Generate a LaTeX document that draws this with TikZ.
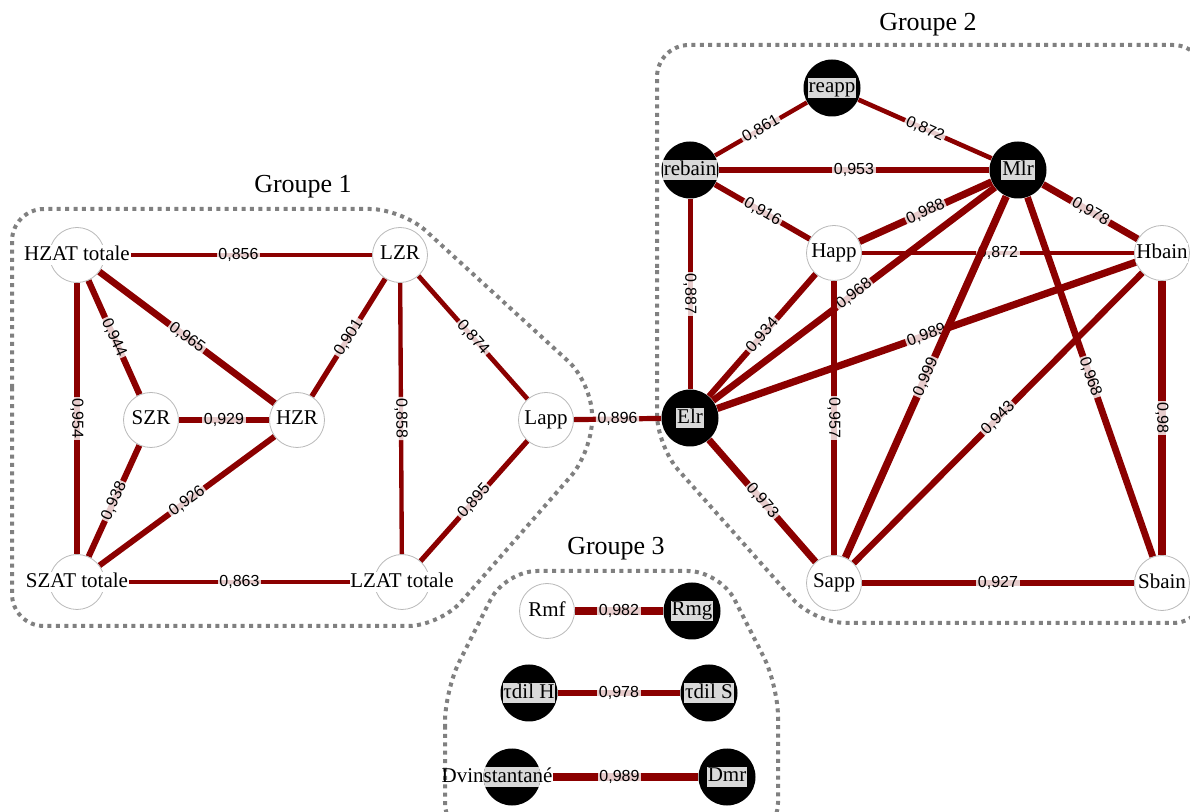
\documentclass[tikz,border=0pt]{standalone}
\usepackage{fontspec}
\setmainfont{Liberation Serif}
\setsansfont{Liberation Sans}
\usepackage{xcolor}
\definecolor{linkred}{HTML}{8B0000}
\definecolor{hullgray}{HTML}{808080}
\definecolor{labgray}{HTML}{D9D9D9}
\usepackage{tikz}
\usetikzlibrary{backgrounds}
\newcommand{\wtxt}[1]{\makebox[0pt]{\setlength{\fboxsep}{0.4pt}\colorbox{white}{\vphantom{Hp}#1}}}
\newcommand{\btxt}[1]{\makebox[0pt]{\setlength{\fboxsep}{0.4pt}\colorbox{labgray}{\vphantom{Hp}#1}}}

\begin{document}
\begin{tikzpicture}[x=0.5pt,y=-0.5pt,
  wvar/.style={circle,draw=gray!55,line width=0.4pt,fill=white,minimum size=27.5pt,inner sep=0pt,font=\fontsize{10.5}{12}\selectfont},
  bvar/.style={wvar,draw=none,fill=black,minimum size=28.5pt},
  lk/.style={draw=linkred,line width={(#1-0.66)*11pt}},
  val/.style={sloped,font=\sffamily\fontsize{8}{9}\selectfont,fill=white,fill opacity=.8,text opacity=1,inner sep=.8pt},
  hull/.style={draw=hullgray,line width=2pt,dash pattern=on 2pt off 2.2pt,rounded corners=16pt},
  grp/.style={font=\fontsize{13}{15}\selectfont}]
\useasboundingbox (0,0) rectangle (1190,812);
% groupe 1
\node[wvar] (HZAT) at (77,255) {\wtxt{HZAT totale}};
\node[wvar] (LZR) at (400,255) {\wtxt{LZR}};
\node[wvar] (SZR) at (151,420) {\wtxt{SZR}};
\node[wvar] (HZR) at (297,420) {\wtxt{HZR}};
\node[wvar] (Lapp) at (546,420) {\wtxt{Lapp}};
\node[wvar] (SZAT) at (77,582) {\wtxt{SZAT totale}};
\node[wvar] (LZAT) at (402,582) {\wtxt{LZAT totale}};
% groupe 2
\node[bvar] (reapp) at (832,88) {\btxt{reapp}};
\node[bvar] (rebain) at (690,170) {\btxt{rebain}};
\node[bvar] (Mlr) at (1018,170) {\btxt{Mlr}};
\node[wvar] (Happ) at (834,253) {\wtxt{Happ}};
\node[wvar] (Hbain) at (1162,253) {\wtxt{Hbain}};
\node[bvar] (Elr) at (690,418) {\btxt{Elr}};
\node[wvar] (Sapp) at (834,583) {\wtxt{Sapp}};
\node[wvar] (Sbain) at (1162,583) {\wtxt{Sbain}};
% groupe 3
\node[wvar] (Rmf) at (547,611) {\wtxt{Rmf}};
\node[bvar] (Rmg) at (692,611) {\btxt{Rmg}};
\node[bvar] (tdilH) at (529,693) {\btxt{τdil H}};
\node[bvar] (tdilS) at (709,693) {\btxt{τdil S}};
\node[bvar,path picture={\fill[labgray] ([yshift=-5pt]path picture bounding box.west) rectangle ([yshift=5pt]path picture bounding box.east);}] (Dvi) at (512,777) {\makebox[0pt]{\vphantom{Hp}Dvinstantané\kern15pt}};
\node[bvar] (Dmr) at (727,777) {\btxt{Dmr}};
% titres
\node[grp] (g1) at (303,187) {Groupe 1};
\node[grp] (g2) at (928,25) {Groupe 2};
\node[grp] (g3) at (616,549) {Groupe 3};

\begin{pgfonlayer}{background}
\draw[hull] (12,420) -- (12,209) -- (402,209) -- (592,383) -- (592,452) -- (440,626) -- (12,626) -- cycle;
\draw[hull] (657,300) -- (657,45) -- (1205,45) -- (1205,623) -- (814,623) -- (657,446) -- cycle;
\draw[hull] (445,760) -- (445,690) -- (505,571) -- (720,571) -- (778,685) -- (778,835) -- (445,835) -- cycle;
% liens groupe 1
\draw[lk=0.856] (HZAT) -- node[val] {0,856} (LZR);
\draw[lk=0.954] (HZAT) -- node[val] {0,954} (SZAT);
\draw[lk=0.944] (HZAT) -- node[val] {0,944} (SZR);
\draw[lk=0.965] (HZAT) -- node[val] {0,965} (HZR);
\draw[lk=0.929] (SZR) -- node[val] {0,929} (HZR);
\draw[lk=0.938] (SZAT) -- node[val] {0,938} (SZR);
\draw[lk=0.926] (SZAT) -- node[val] {0,926} (HZR);
\draw[lk=0.901] (HZR) -- node[val] {0,901} (LZR);
\draw[lk=0.858] (LZR) -- node[val] {0,858} (LZAT);
\draw[lk=0.874] (LZR) -- node[val] {0,874} (Lapp);
\draw[lk=0.895] (LZAT) -- node[val] {0,895} (Lapp);
\draw[lk=0.863] (SZAT) -- node[val] {0,863} (LZAT);
\draw[lk=0.896] (Lapp) -- node[val] {0,896} (Elr);
% liens groupe 2
\draw[lk=0.861] (rebain) -- node[val] {0,861} (reapp);
\draw[lk=0.872] (reapp) -- node[val] {0,872} (Mlr);
\draw[lk=0.953] (rebain) -- node[val] {0,953} (Mlr);
\draw[lk=0.916] (rebain) -- node[val] {0,916} (Happ);
\draw[lk=0.887] (rebain) -- node[val] {0,887} (Elr);
\draw[lk=0.988] (Happ) -- node[val] {0,988} (Mlr);
\draw[lk=0.978] (Mlr) -- node[val] {0,978} (Hbain);
\draw[lk=0.872] (Happ) -- node[val] {0,872} (Hbain);
\draw[lk=0.968] (Elr) -- node[val] {0,968} (Mlr);
\draw[lk=0.934] (Elr) -- node[val] {0,934} (Happ);
\draw[lk=0.989] (Elr) -- node[val] {0,989} (Hbain);
\draw[lk=0.999] (Sapp) -- node[val] {0,999} (Mlr);
\draw[lk=0.968] (Mlr) -- node[val] {0,968} (Sbain);
\draw[lk=0.957] (Happ) -- node[val] {0,957} (Sapp);
\draw[lk=0.943] (Sapp) -- node[val] {0,943} (Hbain);
\draw[lk=0.980] (Hbain) -- node[val] {0,98} (Sbain);
\draw[lk=0.973] (Elr) -- node[val] {0,973} (Sapp);
\draw[lk=0.927] (Sapp) -- node[val] {0,927} (Sbain);
% liens groupe 3
\draw[lk=0.982] (Rmf) -- node[val] {0,982} (Rmg);
\draw[lk=0.978] (tdilH) -- node[val] {0,978} (tdilS);
\draw[lk=0.989,shorten <=6pt] (Dvi) -- node[val] {0,989} (Dmr);
\end{pgfonlayer}
\end{tikzpicture}
\end{document}
